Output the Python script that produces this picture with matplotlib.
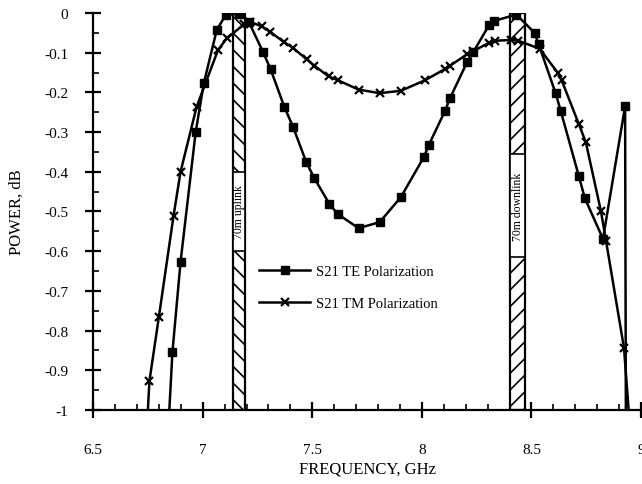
from matplotlib import pyplot as plt

plt.rcParams['font.family'] = ['Liberation Serif', 'DejaVu Serif']
plt.rcParams['axes.unicode_minus'] = False
plt.rcParams['hatch.linewidth'] = 1.2

# S21 TE polarization (squares)
te_freq = [6.84, 6.862, 6.899, 6.968, 7.005, 7.064, 7.105, 7.165, 7.21, 7.275, 7.31,
           7.372, 7.413, 7.472, 7.509, 7.578, 7.615, 7.711, 7.807, 7.904, 8.009, 8.032,
           8.106, 8.128, 8.206, 8.234, 8.307, 8.33, 8.431, 8.514, 8.532, 8.61, 8.633,
           8.716, 8.743, 8.826, 8.927, 8.935]
te_db = [-1.08, -0.854, -0.627, -0.30, -0.177, -0.043, -0.005, -0.002, -0.022, -0.098, -0.142,
         -0.236, -0.288, -0.375, -0.416, -0.481, -0.506, -0.542, -0.527, -0.464, -0.363, -0.332,
         -0.246, -0.215, -0.124, -0.099, -0.03, -0.02, -0.004, -0.05, -0.078, -0.202, -0.246,
         -0.411, -0.466, -0.569, -0.235, -2.0]

# S21 TM polarization (crosses)
tm_freq = [6.745, 6.757, 6.80, 6.867, 6.899, 6.972, 7.07, 7.11, 7.19, 7.215, 7.27, 7.307,
           7.372, 7.41, 7.475, 7.51, 7.575, 7.615, 7.711, 7.807, 7.904, 8.012, 8.106, 8.128,
           8.206, 8.234, 8.307, 8.335, 8.408, 8.44, 8.537, 8.619, 8.638, 8.716, 8.748,
           8.817, 8.84, 8.922, 8.95]
tm_db = [-1.05, -0.927, -0.766, -0.511, -0.40, -0.237, -0.093, -0.064, -0.028, -0.022, -0.034, -0.047,
         -0.074, -0.087, -0.117, -0.133, -0.16, -0.169, -0.193, -0.202, -0.196, -0.17, -0.141, -0.133,
         -0.104, -0.096, -0.075, -0.07, -0.068, -0.07, -0.09, -0.15, -0.17, -0.28, -0.326,
         -0.50, -0.574, -0.844, -1.05]

# 70m bands: (start, stop, label, hatch, label box bottom, label box top)
bands = [(7.138, 7.193, '70m uplink', '\\\\', -0.60, -0.40),
         (8.404, 8.47, '70m downlink', '//', -0.615, -0.355)]

xtick_vals = [6.5, 7, 7.5, 8, 8.5, 9]
xtick_labels = ['6.5', '7', '7.5', '8', '8.5', '9']
ytick_vals = [0, -0.1, -0.2, -0.3, -0.4, -0.5, -0.6, -0.7, -0.8, -0.9, -1]
ytick_labels = ['0', '-0.1', '-0.2', '-0.3', '-0.4', '-0.5', '-0.6', '-0.7', '-0.8', '-0.9', '-1']

fig = plt.figure(figsize=(6.42, 4.85), dpi=100)
ax = fig.add_axes([0.145, 0.1526, 0.8536, 0.8186])

for start, stop, label, hatch, lo, hi in bands:
    ax.bar(start, 1.0, bottom=-1.0, width=stop - start, align='edge', color='white',
           edgecolor='black', hatch=hatch, linewidth=1.6, zorder=1)
    ax.bar(start, hi - lo, bottom=lo, width=stop - start, align='edge', color='white',
           edgecolor='black', linewidth=1.2, zorder=1.5)
    ax.text((start + stop) / 2, (lo + hi) / 2, label, rotation=90, ha='center', va='center',
            fontsize=8.5, zorder=2)

ax.plot(te_freq, te_db, color='black', lw=1.8, marker='s', ms=5.5, zorder=3,
        label='S21 TE Polarization')
ax.plot(tm_freq, tm_db, color='black', lw=1.8, marker='x', ms=5.5, mew=1.6, zorder=3,
        label='S21 TM Polarization')

ax.set_xlim(6.5, 9)
ax.set_ylim(-1, 0)
ax.spines['top'].set_visible(False)
ax.spines['right'].set_visible(False)
ax.spines['left'].set_linewidth(1.6)
ax.spines['bottom'].set_linewidth(1.6)

ax.set_xticks(xtick_vals)
ax.set_xticklabels(xtick_labels)
ax.set_yticks(ytick_vals)
ax.set_yticklabels(ytick_labels)
ax.set_xticks([6.5 + 0.1 * i for i in range(26)], minor=True)
ax.set_yticks([-0.05 - 0.1 * i for i in range(10)], minor=True)
ax.tick_params(which='major', direction='inout', length=12, width=1.6, labelsize=11)
ax.tick_params(axis='x', which='major', pad=18)
ax.tick_params(axis='y', which='major', pad=12)
ax.tick_params(which='minor', direction='in', length=4, width=1.2)

ax.set_xlabel('FREQUENCY, GHz', fontsize=12, labelpad=3)
ax.set_ylabel('POWER, dB', fontsize=12, labelpad=14)

ax.legend(loc='upper left', bbox_to_anchor=(0.29, 0.385), frameon=False, fontsize=10.5,
          handlelength=3.5, labelspacing=1.3, borderpad=0, handletextpad=0.4)

plt.savefig('out.png', dpi=100)
